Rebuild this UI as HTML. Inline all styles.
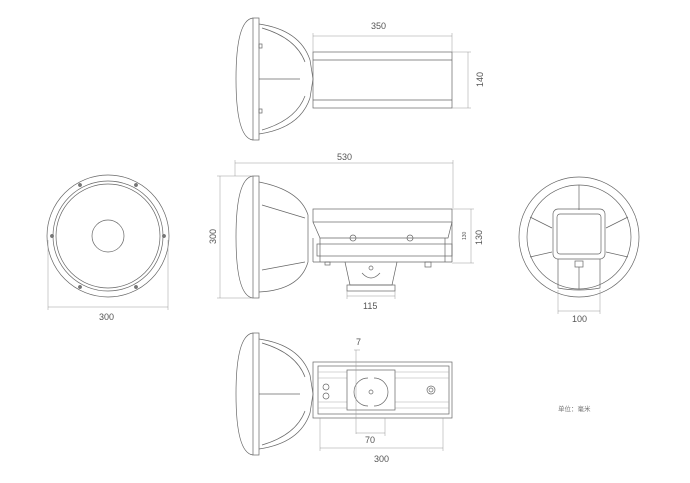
<!DOCTYPE html>
<html><head><meta charset="utf-8"><style>
html,body{margin:0;padding:0;background:#fff;width:690px;height:483px;overflow:hidden}
svg{display:block}
text{font-family:"Liberation Sans",sans-serif;font-size:9px;fill:#555}
</style></head><body>
<svg width="690" height="483" viewBox="0 0 690 483" fill="none" stroke="#666" stroke-width="0.7">
<!-- ===== TOP VIEW ===== -->
<g>
<path d="M253 18 Q236 20 236 79 Q236 138 253 140"/>
<rect x="253" y="18" width="6" height="122"/>
<path d="M259 24 Q300 30 310 60 L313 79 L310 98 Q300 128 259 134"/>
<path d="M262 28 Q296 38 305 62 M262 130 Q296 120 305 96"/>
<line x1="259" y1="79" x2="300" y2="79"/>
<rect x="259" y="44" width="3" height="4"/><rect x="259" y="109" width="3" height="4"/>
<rect x="313" y="52" width="139" height="56"/>
<line x1="313" y1="60" x2="452" y2="60"/><line x1="313" y1="100" x2="452" y2="100"/>
<g stroke="#999" stroke-width="0.5">
<line x1="313" y1="36" x2="452" y2="36"/><line x1="313" y1="33" x2="313" y2="52"/><line x1="452" y1="33" x2="452" y2="52"/>
<line x1="468" y1="52" x2="468" y2="108"/><line x1="452" y1="52" x2="471" y2="52"/><line x1="452" y1="108" x2="471" y2="108"/>
</g>
<text x="371" y="29" stroke="none">350</text>
<text x="0" y="0" stroke="none" transform="translate(483,87) rotate(-90)">140</text>
</g>
<!-- ===== MIDDLE SIDE VIEW ===== -->
<g>
<path d="M253 176 Q236 178 236 237 Q236 296 253 298"/>
<rect x="253" y="176" width="6" height="122"/>
<path d="M259 182 Q300 190 308 215 L308 262 Q300 290 259 292"/>
<path d="M262 205 L305 218 M262 270 L305 262"/>
<rect x="313" y="209" width="139" height="13"/>
<path d="M313 222 L320 238 L448 238 L452 222"/>
<rect x="317" y="244" width="135" height="12"/>
<line x1="313" y1="238" x2="313" y2="262"/><line x1="452" y1="222" x2="452" y2="262"/>
<line x1="320" y1="238" x2="320" y2="262"/><line x1="445" y1="238" x2="445" y2="262"/>
<line x1="313" y1="262" x2="452" y2="262"/>
<circle cx="353" cy="238" r="3"/><circle cx="410" cy="238" r="3"/>
<path d="M345 262 L350 285 L392 285 L397 262"/>
<rect x="347" y="285" width="48" height="6"/>
<path d="M362 273 Q371 283 380 273"/><circle cx="371" cy="268" r="2"/>
<rect x="425" y="262" width="6" height="5"/><rect x="325" y="262" width="5" height="3"/>
<g stroke="#999" stroke-width="0.5">
<line x1="235" y1="163" x2="453" y2="163"/><line x1="235" y1="160" x2="235" y2="176"/><line x1="453" y1="160" x2="453" y2="208"/>
<line x1="220" y1="176" x2="220" y2="298"/><line x1="217" y1="176" x2="253" y2="176"/><line x1="217" y1="298" x2="253" y2="298"/>
<line x1="471" y1="209" x2="471" y2="263"/><line x1="452" y1="209" x2="474" y2="209"/><line x1="452" y1="263" x2="474" y2="263"/>
<line x1="347" y1="296" x2="395" y2="296"/><line x1="347" y1="291" x2="347" y2="299"/><line x1="395" y1="291" x2="395" y2="299"/>
</g>
<text x="337" y="160" stroke="none">530</text>
<text x="0" y="0" stroke="none" transform="translate(216,244) rotate(-90)">300</text>
<text x="0" y="0" stroke="none" transform="translate(482,245) rotate(-90)">130</text>
<text x="0" y="0" stroke="none" style="font-size:5px" transform="translate(466,240) rotate(-90)">130</text>
<text x="363" y="309" stroke="none">115</text>
</g>
<!-- ===== BOTTOM VIEW ===== -->
<g>
<path d="M253 333 Q236 335 236 394 Q236 453 253 455"/>
<rect x="253" y="333" width="6" height="122"/>
<path d="M259 339 Q300 345 310 375 L313 394 L310 413 Q300 443 259 449"/>
<path d="M262 343 Q296 353 305 377 M262 445 Q296 435 305 411"/>
<line x1="259" y1="394" x2="300" y2="394"/>
<rect x="313" y="362" width="139" height="56"/>
<rect x="318" y="366" width="131" height="48"/>
<g stroke="#aaa" stroke-width="0.5"><line x1="318" y1="372" x2="449" y2="372"/><line x1="318" y1="378" x2="449" y2="378"/><line x1="318" y1="408" x2="449" y2="408"/><line x1="318" y1="402" x2="449" y2="402"/></g>
<rect x="347" y="370" width="48" height="40" fill="#fff"/>
<path d="M368 378 A14 14 0 0 0 368 406 M374 378 A14 14 0 0 1 374 406"/>
<circle cx="371" cy="392" r="2"/>
<circle cx="326" cy="387" r="3"/><circle cx="326" cy="396" r="3"/>
<circle cx="431" cy="390" r="4"/><circle cx="431" cy="390" r="2"/>
<g stroke="#999" stroke-width="0.5">
<line x1="356" y1="350" x2="356" y2="434"/><line x1="354" y1="350" x2="360" y2="350"/>
<line x1="356" y1="433" x2="385" y2="433"/><line x1="385" y1="418" x2="385" y2="436"/>
<line x1="320" y1="448" x2="443" y2="448"/><line x1="320" y1="418" x2="320" y2="451"/><line x1="443" y1="418" x2="443" y2="451"/>
</g>
<text x="356" y="345" stroke="none">7</text>
<text x="365" y="443" stroke="none">70</text>
<text x="374" y="462" stroke="none">300</text>
<text x="558" y="411" stroke="none" style="font-size:6.5px;fill:#777;font-family:'Liberation Sans','Noto Sans CJK SC',sans-serif">单位：毫米</text>
</g>
<!-- ===== LEFT FRONT ===== -->
<g>
<circle cx="108" cy="236" r="61"/><circle cx="108" cy="236" r="55"/><circle cx="108" cy="236" r="52"/>
<circle cx="108" cy="236" r="16"/>
<g fill="#777"><circle cx="52" cy="236" r="1.5"/><circle cx="164" cy="236" r="1.5"/><circle cx="80" cy="185" r="1.5"/><circle cx="136" cy="185" r="1.5"/><circle cx="80" cy="287" r="1.5"/><circle cx="136" cy="287" r="1.5"/></g>
<g stroke="#999" stroke-width="0.5"><line x1="48" y1="307" x2="168" y2="307"/><line x1="48" y1="240" x2="48" y2="310"/><line x1="168" y1="240" x2="168" y2="310"/></g>
<text x="99" y="320" stroke="none">300</text>
</g>
<!-- ===== RIGHT BACK ===== -->
<g>
<circle cx="579" cy="237" r="60"/><circle cx="579" cy="237" r="52"/>
<line x1="579" y1="185" x2="579" y2="210"/><line x1="530" y1="217" x2="552" y2="228"/><line x1="628" y1="217" x2="606" y2="228"/>
<line x1="530" y1="257" x2="552" y2="252"/><line x1="628" y1="257" x2="606" y2="252"/>
<rect x="553" y="209" width="52" height="50" rx="5"/><rect x="557" y="214" width="44" height="40" rx="3"/>
<path d="M558 259 L558 288 Q579 292 600 288 L600 259"/>
<rect x="575" y="261" width="8" height="6"/>
<line x1="579" y1="267" x2="579" y2="289"/>
<g stroke="#999" stroke-width="0.5"><line x1="558" y1="311" x2="600" y2="311"/><line x1="558" y1="290" x2="558" y2="314"/><line x1="600" y1="290" x2="600" y2="314"/></g>
<text x="572" y="322" stroke="none">100</text>
</g>
</svg>
</body></html>
